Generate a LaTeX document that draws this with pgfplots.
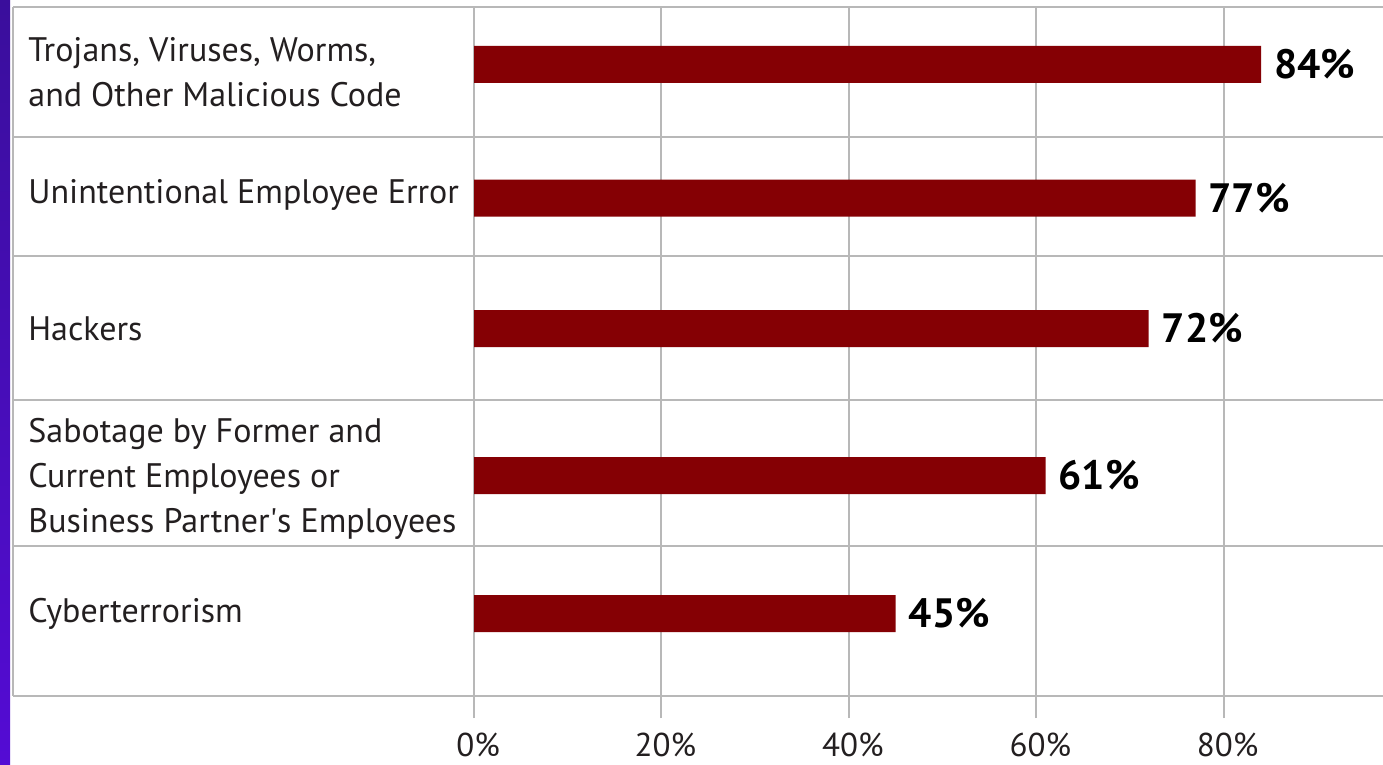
\documentclass[border=0pt]{standalone}
\usepackage{pgfplots}
\pgfplotsset{compat=1.18}
\usepackage{fontspec}
\setmainfont{PT Sans}
\definecolor{barc}{RGB}{133,0,4}
\definecolor{gridc}{RGB}{184,184,184}
\definecolor{txtc}{RGB}{35,31,32}
\definecolor{stripA}{RGB}{58,14,156}
\definecolor{stripB}{RGB}{106,0,255}
\definecolor{stripC}{RGB}{84,12,212}
\begin{document}
\begin{tikzpicture}
\useasboundingbox (0,0) rectangle (691.5pt,-382.5pt);
\fill[white] (0,0) rectangle (691.5pt,-382.5pt);
\shade[top color=stripA, middle color=stripB, bottom color=stripC] (0,0) rectangle (5pt,-382.5pt);
\begin{axis}[
  at={(6.5pt,-3.5pt)}, anchor=north west,
  scale only axis, width=685pt, height=355.5pt,
  xmin=-49.2, xmax=97.0, ymin=-718, ymax=-7,
  clip=false,
  /pgf/number format/assume math mode=true,
  axis line style={draw=none},
  xbar, bar width=37,
  xtick={0,20,40,60,80},
  xticklabels={0\%,20\%,40\%,60\%,80\%},
  xmajorgrids,
  grid style={gridc, line width=1pt},
  major tick length=0pt,
  x tick label style={font=\fontsize{16.5}{18}\selectfont, text=txtc, xshift=2pt, yshift=-4pt},
  ytick={-72,-195,-328.5,-479,-613.5},
  yticklabels={{Trojans, Viruses, Worms,\\and Other Malicious Code},
               {Unintentional Employee Error},
               {Hackers},
               {Sabotage by Former and\\Current Employees or\\Business Partner\textquotesingle s Employees},
               {Cyberterrorism}},
  y tick label style={anchor=west, align=left, inner sep=0pt, xshift=7.5pt,
     font=\fontsize{17}{22.5}\selectfont, text=txtc},
  extra y ticks={-7,-137,-256,-400,-546,-696},
  extra y tick labels={},
  extra y tick style={grid=major, grid style={gridc, line width=1.3pt}},
  nodes near coords={\pgfmathprintnumber[assume math mode=true]{\pgfplotspointmeta}\%},
  point meta=x,
  nodes near coords style={anchor=west, xshift=3pt, font=\bfseries\fontsize{20.5}{22}\selectfont, text=black},
]
\addplot[fill=barc, draw=none] coordinates {
  (84,-64.5) (77,-198) (72,-328.5) (61,-475.5) (45,-613.5)
};
\draw[gridc, line width=1pt] (axis cs:-49.2,-7) -- (axis cs:-49.2,-696);
\end{axis}
\end{tikzpicture}
\end{document}
